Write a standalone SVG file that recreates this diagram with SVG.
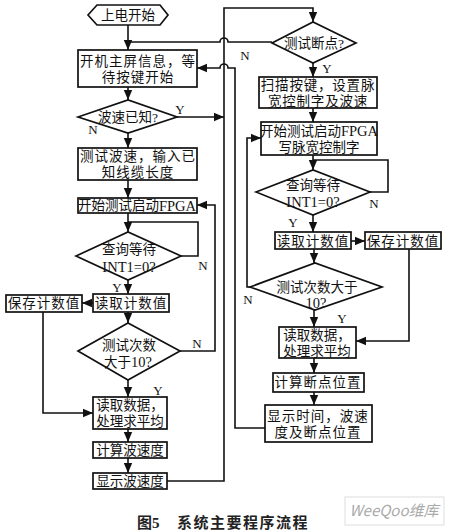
<svg xmlns="http://www.w3.org/2000/svg" width="450" height="532" viewBox="0 0 450 532">
<defs>
<marker id="arr" markerUnits="userSpaceOnUse" markerWidth="10" markerHeight="10" viewBox="0 0 10 10" refX="10" refY="5" orient="auto">
<path d="M0,0.8 L10,5 L0,9.2 Z" fill="#111"/>
</marker>
<style>
.box{fill:#fff;stroke:#111;stroke-width:1.7}
.ln{fill:none;stroke:#111;stroke-width:1.6}
.t{font-family:"Liberation Serif","Noto Sans CJK SC",serif;font-size:13.5px;fill:#111;text-anchor:middle;dominant-baseline:central}
.yn{font-family:"Liberation Serif",serif;font-size:13px;fill:#111;text-anchor:middle;dominant-baseline:central}
.la{font-size:14.5px}
</style>
</defs>
<rect width="450" height="532" fill="#fff"/>

<g id="connectors">
<path class="ln" d="M128 25 V50" marker-end="url(#arr)"/>
<path class="ln" d="M272 42 H228 A4 4 0 0 0 220 42 H128"/>
<path class="ln" d="M265 428 H235 V68 H228 A4 4 0 0 0 220 68 H197" marker-end="url(#arr)"/>
<path class="ln" d="M128 87 V100" marker-end="url(#arr)"/>
<path class="ln" d="M177 117 H224" marker-end="url(#arr)"/>
<path class="ln" d="M128 133 V148" marker-end="url(#arr)"/>
<path class="ln" d="M128 180 V198" marker-end="url(#arr)"/>
<path class="ln" d="M128 213 V232" marker-end="url(#arr)"/>
<path class="ln" d="M181 256 H198 V222 H128"/>
<path class="ln" d="M128 280 V294" marker-end="url(#arr)"/>
<path class="ln" d="M93 303 H82" marker-end="url(#arr)"/>
<path class="ln" d="M43 312 V413 H93" marker-end="url(#arr)"/>
<path class="ln" d="M128 312 V323" marker-end="url(#arr)"/>
<path class="ln" d="M180 351 H215 V205 H197" marker-end="url(#arr)"/>
<path class="ln" d="M128 380 V397" marker-end="url(#arr)"/>
<path class="ln" d="M128 429 V442" marker-end="url(#arr)"/>
<path class="ln" d="M128 458 V473" marker-end="url(#arr)"/>
<path class="ln" d="M167 481 H224 V8 H313 V22" marker-end="url(#arr)"/>
<path class="ln" d="M313 63 V77" marker-end="url(#arr)"/>
<path class="ln" d="M313 108 V122" marker-end="url(#arr)"/>
<path class="ln" d="M313 155 V170" marker-end="url(#arr)"/>
<path class="ln" d="M370 192 H388 V160 H313"/>
<path class="ln" d="M313 215 V232" marker-end="url(#arr)"/>
<path class="ln" d="M351 241 H365" marker-end="url(#arr)"/>
<path class="ln" d="M409 249 V341 H356" marker-end="url(#arr)"/>
<path class="ln" d="M314 249 V263" marker-end="url(#arr)"/>
<path class="ln" d="M250 287 H247 V138 H261" marker-end="url(#arr)"/>
<path class="ln" d="M314 310 V327" marker-end="url(#arr)"/>
<path class="ln" d="M314 358 V373" marker-end="url(#arr)"/>
<path class="ln" d="M314 392 V405" marker-end="url(#arr)"/>
</g>

<g id="n-start">
<path class="box" d="M88 15 L97 5 H160 L168 15 L160 25 H97 Z"/>
<text class="t" x="128" y="15" font-size="15.5">上电开始</text>
</g>
<g id="n-boot">
<rect class="box" x="78" y="50" width="119" height="37"/>
<text class="t" letter-spacing="1"><tspan x="138" y="61">开机主屏信息，等</tspan><tspan x="138" y="77">待按键开始</tspan></text>
</g>
<g id="n-known">
<path class="box" d="M78 117 L128 100 L177 117 L128 133 Z"/>
<text class="t" x="128" y="117">波速已知?</text>
<text class="yn" x="180" y="109">Y</text>
<text class="yn" x="93" y="129">N</text>
</g>
<g id="n-measure">
<rect class="box" x="78" y="148" width="119" height="32"/>
<text class="t" letter-spacing="1"><tspan x="138" y="156">测试波速，输入已</tspan><tspan x="138" y="172">知线缆长度</tspan></text>
</g>
<g id="n-fpga1">
<rect class="box" x="78" y="198" width="119" height="15"/>
<text class="t" x="137" y="205.5" font-size="13">开始测试启动<tspan class="la">FPGA</tspan></text>
</g>
<g id="n-wait1">
<path class="box" d="M76 256 L128 232 L181 256 L128 280 Z"/>
<text class="t"><tspan x="129" y="249">查询等待</tspan><tspan class="la" x="129" y="267">INT1=0?</tspan></text>
<text class="yn" x="203" y="265">N</text>
<text class="yn" x="117" y="287">Y</text>
</g>
<g id="n-read1">
<rect class="box" x="93" y="294" width="76" height="18"/>
<text class="t" x="131" y="303" letter-spacing="1">读取计数值</text>
</g>
<g id="n-save1">
<rect class="box" x="6" y="295" width="76" height="17"/>
<text class="t" x="44" y="303" letter-spacing="1">保存计数值</text>
</g>
<g id="n-count1">
<path class="box" d="M78 351 L128 323 L180 351 L128 380 Z"/>
<text class="t"><tspan x="129" y="345">测试次数</tspan><tspan x="128" y="362">大于<tspan class="la">10?</tspan></tspan></text>
<text class="yn" x="197" y="343">N</text>
<text class="yn" x="158" y="390">Y</text>
</g>
<g id="n-avg1">
<rect class="box" x="93" y="397" width="74" height="32"/>
<text class="t"><tspan x="130" y="405">读取数据，</tspan><tspan x="130" y="421">处理求平均</tspan></text>
</g>
<g id="n-calc1">
<rect class="box" x="93" y="442" width="74" height="16"/>
<text class="t" x="130" y="450">计算波速度</text>
</g>
<g id="n-show1">
<rect class="box" x="93" y="473" width="74" height="16"/>
<text class="t" x="130" y="481">显示波速度</text>
</g>

<g id="n-break">
<path class="box" d="M272 43 L313 22 L356 43 L313 63 Z"/>
<text class="t" x="314" y="43">测试断点?</text>
<text class="yn" x="327" y="68">Y</text>
<text class="yn" x="245" y="55">N</text>
</g>
<g id="n-scan">
<rect class="box" x="259" y="77" width="118" height="31"/>
<text class="t" letter-spacing="0.8"><tspan x="318" y="84.5">扫描按键，设置脉</tspan><tspan x="318" y="100.5">宽控制字及波速</tspan></text>
</g>
<g id="n-fpga2">
<rect class="box" x="261" y="122" width="116" height="33"/>
<text class="t" font-size="13"><tspan x="319" y="131">开始测试启动<tspan class="la">FPGA</tspan></tspan><tspan x="319" y="147" font-size="13.5">写脉宽控制字</tspan></text>
</g>
<g id="n-wait2">
<path class="box" d="M256 192 L313 170 L370 192 L313 215 Z"/>
<text class="t"><tspan x="313" y="185">查询等待</tspan><tspan class="la" x="313" y="202">INT1=0?</tspan></text>
<text class="yn" x="374" y="203">N</text>
<text class="yn" x="293" y="222">Y</text>
</g>
<g id="n-read2">
<rect class="box" x="275" y="232" width="76" height="17"/>
<text class="t" x="313" y="241" letter-spacing="1">读取计数值</text>
</g>
<g id="n-save2">
<rect class="box" x="365" y="232" width="76" height="17"/>
<text class="t" x="403" y="241" letter-spacing="1">保存计数值</text>
</g>
<g id="n-count2">
<path class="box" d="M250 287 L315 263 L382 287 L315 310 Z"/>
<text class="t"><tspan x="317" y="287">测试次数大于</tspan><tspan class="la" x="316" y="303">10?</tspan></text>
<text class="yn" x="248" y="299">N</text>
<text class="yn" x="342" y="318">Y</text>
</g>
<g id="n-avg2">
<rect class="box" x="279" y="327" width="77" height="31"/>
<text class="t"><tspan x="317" y="334.5">读取数据，</tspan><tspan x="317" y="350.5">处理求平均</tspan></text>
</g>
<g id="n-calc2">
<rect class="box" x="273" y="373" width="91" height="19"/>
<text class="t" x="318" y="382" letter-spacing="1">计算断点位置</text>
</g>
<g id="n-show2">
<rect class="box" x="265" y="405" width="107" height="37"/>
<text class="t" letter-spacing="1"><tspan x="318" y="416">显示时间，波速</tspan><tspan x="318" y="432">度及断点位置</tspan></text>
</g>

<g id="caption">
<text x="137" y="528" font-family="Liberation Serif,Noto Sans CJK SC,serif" font-size="15" font-weight="700" fill="#222">图5</text>
<text x="177" y="528" font-family="Liberation Serif,Noto Sans CJK SC,serif" font-size="15" font-weight="700" fill="#222" letter-spacing="1.5">系统主要程序流程</text>
</g>
<g id="watermark">
<rect x="345" y="497" width="99" height="28" fill="#fff" stroke="#ddd" stroke-width="1"/>
<text x="394" y="516" font-family="Noto Sans CJK SC,sans-serif" font-size="15" fill="#aaa" text-anchor="middle" font-style="italic">WeeQoo维库</text>
</g>
</svg>
